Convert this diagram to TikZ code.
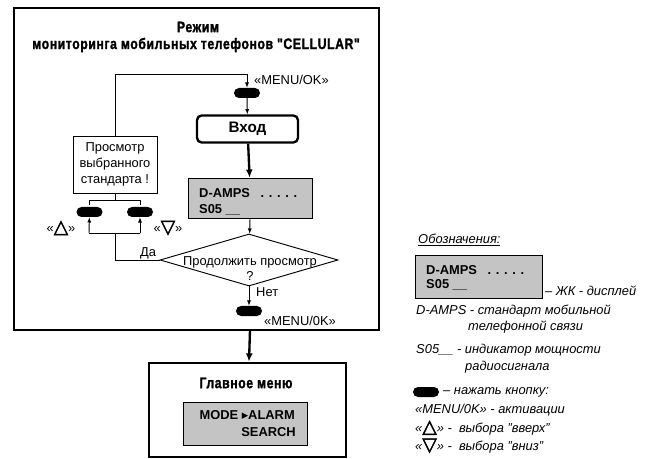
\documentclass[tikz,border=0pt]{standalone}
\usepackage{fontspec}
\setmainfont{Liberation Sans}
\newfontfamily\titlefont[FakeStretch=0.8,LetterSpace=4,FakeBold=1.5]{Liberation Sans}
\newfontfamily\symfont{DejaVu Sans}
\newfontfamily\trifont[FakeBold=2.5]{DejaVu Sans}
\usetikzlibrary{arrows.meta,shapes.geometric}
\definecolor{lcdgray}{RGB}{196,196,196}
\newcommand{\triup}{{\trifont\fontsize{16}{14}\selectfont △}}
\newcommand{\tridown}{{\trifont\fontsize{16}{14}\selectfont ▽}}
\newcommand{\lcddots}{.\kern4pt.\kern4pt.\kern4pt.\kern4pt.}

\begin{document}
\begin{tikzpicture}[x=0.03cm,y=-0.03cm,frame/.style={line width=2.4pt},btn/.style={rectangle,fill=black,minimum width=0.78cm,minimum height=0.3cm,rounded corners=0.15cm,inner sep=0pt},lcd/.style={draw,fill=lcdgray,line width=0.6pt,inner sep=0pt},lcdtxt/.style={font=\bfseries\fontsize{11}{13}\selectfont,anchor=west,inner sep=0pt},txt/.style={font=\fontsize{11}{14}\selectfont,inner sep=0pt},note/.style={font=\itshape\fontsize{11}{12.5}\selectfont,anchor=west,inner sep=0pt},title/.style={font=\titlefont\bfseries\fontsize{13}{15}\selectfont,inner sep=0pt},link/.style={line width=0.8pt},flow/.style={line width=0.8pt,-{Latex[length=4.5pt,width=3.5pt]}},heavy/.style={line width=2pt,-{Latex[length=7pt,width=6pt]}}]
\useasboundingbox (0,0) rectangle (647,459);
\coordinate (LT) at (115,74);
\coordinate (RT) at (247,74);
\coordinate (FK) at (115,233);
\coordinate (FL) at (89,233);
\coordinate (FR) at (140,233);
\coordinate (BK) at (115,200);
\coordinate (BL) at (89,200);
\coordinate (BR) at (140,200);
\coordinate (BLd) at (89,205);
\coordinate (BRd) at (140,205);
\coordinate (FB) at (250,330);
\draw[frame] (14,8) rectangle (379,330);
\node[title] (t1) at (198,27) {Режим};
\node[title] (t2) at (196,45) {мониторинга мобильных телефонов "CELLULAR"};
\node[btn] (b1) at (247,93) {};
\node[txt,anchor=west] (m1) at (254,80) {«MENU/OK»};
\node[draw,line width=2pt,rounded corners=4pt,minimum width=3.03cm,minimum height=0.81cm,font=\bfseries\fontsize{13}{15}\selectfont] (vhod) at (247.5,129) {Вход};
\node[lcd,minimum width=3.72cm,minimum height=1.2cm] (disp) at (250.5,198) {};
\node[lcdtxt] (d1) at (199,193) {D-AMPS\hspace{9pt}\lcddots};
\node[lcdtxt] (d2) at (199,210) {S05 \_\_};
\node[diamond,draw,line width=0.8pt,minimum width=5.34cm,minimum height=1.56cm,inner sep=0pt] (ask) at (249,260) {};
\node[txt] (q1) at (250,262) {Продолжить просмотр};
\node[txt] (q2) at (250,276) {?};
\node[txt,anchor=west] (no) at (256,292) {Нет};
\node[btn] (b3) at (249,311) {};
\node[txt,anchor=west] (m3) at (264,321) {«MENU/0K»};
\node[draw,line width=0.8pt,minimum width=2.52cm,minimum height=1.71cm,align=center,txt] (view) at (115,164.5) {Просмотр\\выбранного\\стандарта !};
\node[btn] (bl) at (89.5,212) {};
\node[btn] (br) at (140,212) {};
\node[txt] (kup) at (61,228) {«\triup»};
\node[txt] (kdn) at (168,228) {«\tridown»};
\node[txt] (yes) at (148,253) {Да};
\draw[flow] (view.north) -- (LT) -- (RT) -- (b1.north);
\draw[flow] (b1) -- (vhod);
\draw[heavy] (vhod) -- (disp);
\draw[flow] (disp) -- (ask);
\draw[flow] (ask) -- (b3);
\draw[link] (ask.west) -| (FK);
\draw[link] (FL) -- (FR);
\draw[flow] (FL) -- (bl);
\draw[flow] (FR) -- (br);
\draw[link] (view.south) -- (BK);
\draw[link] (BLd) -- (BL) -- (BR) -- (BRd);
\node[draw,line width=2.4pt,minimum width=5.91cm,minimum height=2.82cm] (menu) at (247.5,410) {};
\draw[heavy] (FB) -- (menu);
\node[title] (mt) at (246,383) {Главное меню};
\node[lcd,minimum width=3.72cm,minimum height=1.29cm] (mlcd) at (245,423.5) {};
\node[lcdtxt,anchor=east] (ml1) at (295,415) {MODE {\symfont▸}ALARM};
\node[lcdtxt,anchor=east] (ml2) at (296,432) {SEARCH};
\node[note] (leg) at (418,240) {\underline{Обозначения:}};
\node[lcd,minimum width=3.81cm,minimum height=1.29cm] (llcd) at (478.5,276.5) {};
\node[lcdtxt] (l1) at (426,270) {D-AMPS\hspace{9pt}\lcddots};
\node[lcdtxt] (l2) at (426,285) {S05 \_\_};
\node[note] (n1) at (545,291) {– ЖК - дисплей};
\node[note] (n2) at (416,311) {D-AMPS - стандарт мобильной};
\node[note] (n3) at (468,327) {телефонной связи};
\node[note] (n4) at (416,350) {S05\_\_ - индикатор мощности};
\node[note] (n5) at (465,367) {радиосигнала};
\node[btn] (lb) at (426,392) {};
\node[note] (n6) at (443,392) {– нажать кнопку:};
\node[note] (n7) at (415,410) {«MENU/0K» - активации};
\node[note] (n8) at (415,428) {«\triup» - \ выбора "вверх"};
\node[note] (n9) at (415,446) {«\tridown» - \ выбора "вниз"};
\end{tikzpicture}
\end{document}
